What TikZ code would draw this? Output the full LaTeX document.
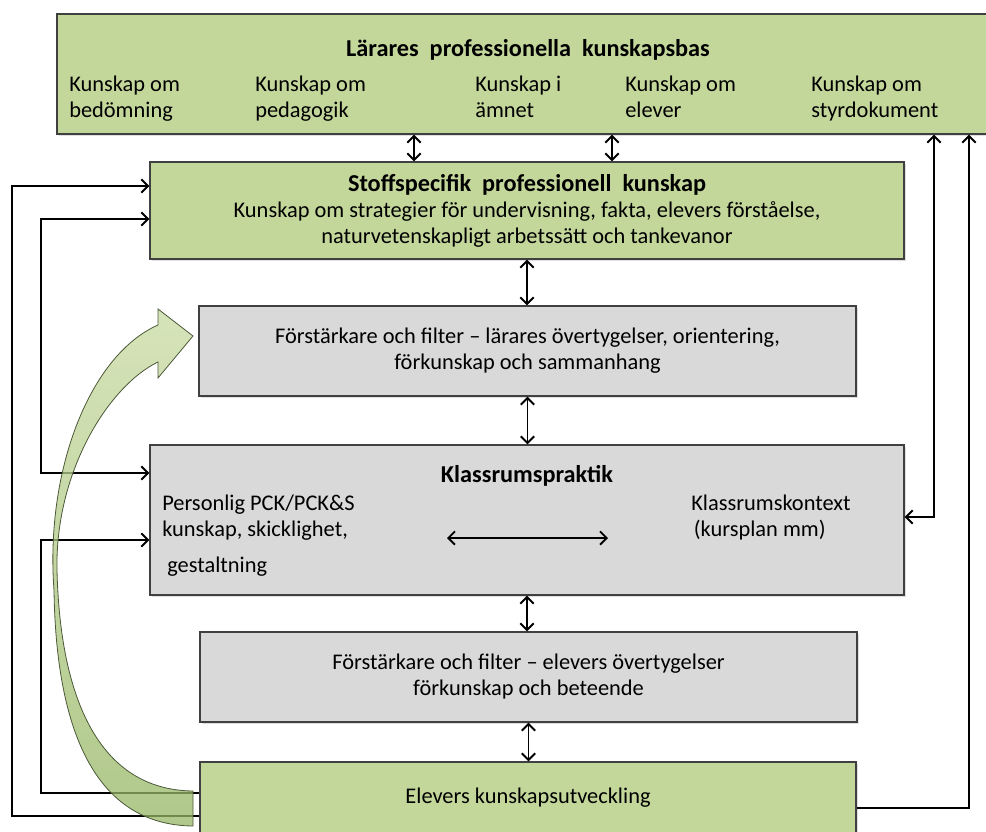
\documentclass[tikz,border=0pt]{standalone}
\usepackage{fontspec}
\setmainfont{Carlito}
\usetikzlibrary{arrows.meta, shadows}
\definecolor{boxgreen}{RGB}{196,215,155}
\definecolor{boxgray}{RGB}{217,217,217}
\definecolor{boxline}{RGB}{64,64,64}
\definecolor{curvetop}{RGB}{200,218,162}
\definecolor{curvebot}{RGB}{150,182,100}
\definecolor{curveline}{RGB}{75,88,55}
\newcommand{\boxtitle}[1]{{\fontsize{18.2}{20}\selectfont\bfseries #1}}

\begin{document}
\begin{tikzpicture}[x=0.75pt, y=-0.75pt, font=\fontsize{16.8}{19.5}\selectfont,
  >={Straight Barb[length=5pt,width=10pt]},
  gbox/.style={draw=boxline, line width=1pt, fill=boxgreen, align=center,
    drop shadow={shadow xshift=1.2pt, shadow yshift=-1.5pt, opacity=.25}},
  gybox/.style={gbox, fill=boxgray},
  lbl/.style={anchor=west, align=left, inner sep=0pt},
  arr/.style={->, line width=1.4pt},
  darr/.style={<->, line width=1.4pt}]
\useasboundingbox (0,0) rectangle (986,832);
\clip (0,0) rectangle (986,832);
% Boxes
\node[gbox, minimum width=707.25pt, minimum height=90pt] (T) at (528.5,74) {};
\node[gbox, minimum width=565.5pt, minimum height=72.75pt] (S) at (527,210.5)
  {\boxtitle{Stoffspecifik\ \ professionell\ \ kunskap}\\Kunskap om strategier för undervisning, fakta, elevers förståelse,\\naturvetenskapligt arbetssätt och tankevanor};
\node[gybox, minimum width=492.75pt, minimum height=67.5pt] (F1) at (527.5,351)
  {Förstärkare och filter – lärares övertygelser, orientering,\\förkunskap och sammanhang};
\node[gybox, minimum width=565.5pt, minimum height=112.5pt] (K) at (527,520) {};
\node[gybox, minimum width=492.75pt, minimum height=67.5pt] (F2) at (528.5,677)
  {Förstärkare och filter – elevers övertygelser\\förkunskap och beteende};
\node[gbox, minimum width=492pt, minimum height=54pt] (E) at (528,798) {Elevers kunskapsutveckling};
% Top box texts
\node (Tt) at (528,50) {\boxtitle{Lärares\ \ professionella\ \ kunskapsbas}};
\node[lbl] (T1) at (69,99) {\strut Kunskap om\\bedömning\strut};
\node[lbl] (T2) at (255,99) {\strut Kunskap om\\pedagogik\strut};
\node[lbl] (T3) at (475,99) {\strut Kunskap i\\ämnet\strut};
\node[lbl] (T4) at (625,99) {\strut Kunskap om\\elever\strut};
\node[lbl] (T5) at (811,99) {\strut Kunskap om\\styrdokument\strut};
% Klassrum texts
\node (Kt) at (527,476) {\boxtitle{Klassrumspraktik}};
\node[lbl] (K1) at (162,518) {\strut Personlig PCK/PCK\&S\\kunskap, skicklighet,\strut};
\node[anchor=base west, inner sep=0pt] (K2) at (167,572) {gestaltning};
\node[lbl] (K3) at (691,518) {\strut Klassrumskontext\\\hspace{2pt}(kursplan mm)\strut};
\coordinate (k1) at (447,538);
\coordinate (k2) at (608,538);
\draw[darr] (k1) -- (k2);
% Vertical links
\draw[darr] (T.south -| 414,0) -- (S.north -| 414,0);
\draw[darr] (T.south -| 612,0) -- (S.north -| 612,0);
\draw[darr] (S.south) -- (S.south |- F1.north);
\draw[darr] (F1.south) -- (F1.south |- K.north);
\draw[darr] (K.south) -- (K.south |- F2.north);
\draw[darr] (F2.south) -- (F2.south |- E.north);
% Feedback loops
\draw[arr] (E.west |- 0,816) -| (12,186) -- (S.west |- 0,186);
\draw[arr] (E.west |- 0,793) -| (41,540) -- (K.west |- 0,540);
\draw[darr] (K.west |- 0,473) -| (41,219) -- (S.west |- 0,219);
\draw[darr] (K.east |- 0,517) -| (T.south -| 934,0);
\draw[arr] (E.east |- 0,808) -| (T.south -| 969,0);
% Curved arrow
\path[draw=curveline, line width=0.6pt, top color=curvetop, bottom color=curvebot, fill opacity=.75]
  (158,325) .. controls (90,355) and (45,470) .. (54,590)
  .. controls (56,730) and (95,825) .. (193,826) -- (193,791)
  .. controls (100,790) and (60,700) .. (57,570)
  .. controls (55,470) and (110,385) .. (158,362)
  -- (158,378) -- (193,336) -- (158,309) -- cycle;
\end{tikzpicture}
\end{document}
